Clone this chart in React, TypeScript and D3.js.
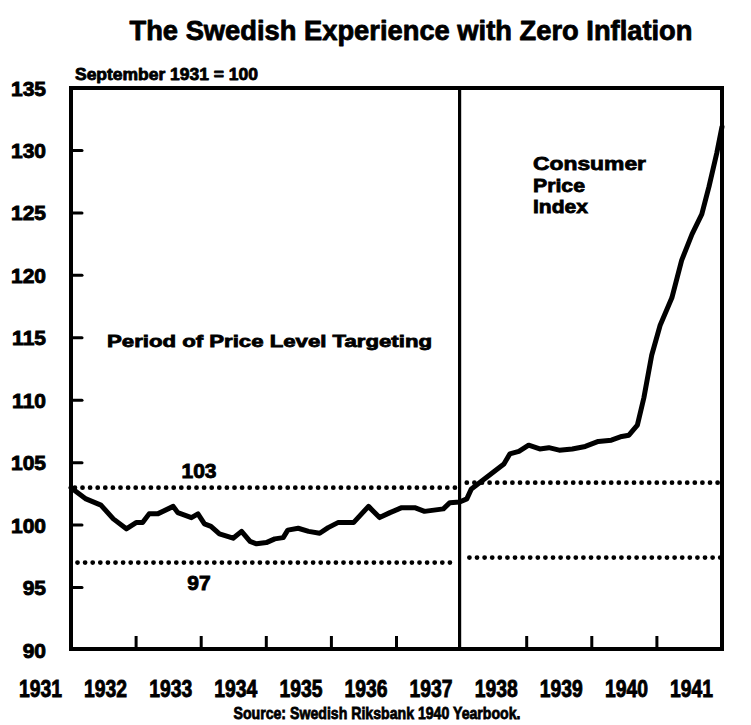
import React from "react";
import * as d3 from "d3";

const cpiYears = [
  1931.0, 1931.23, 1931.46, 1931.65, 1931.85, 1932.0, 1932.1, 1932.2, 1932.33, 1932.57,
  1932.64, 1932.85, 1932.95, 1933.05, 1933.15, 1933.28, 1933.49, 1933.62, 1933.75, 1933.85,
  1934.0, 1934.13, 1934.26, 1934.33, 1934.49, 1934.65, 1934.82, 1934.95, 1935.1, 1935.34,
  1935.57, 1935.74, 1935.9, 1936.08, 1936.28, 1936.43, 1936.72, 1936.82, 1936.97, 1937.08,
  1937.15, 1937.3, 1937.5, 1937.65, 1937.74, 1937.88, 1938.03, 1938.2, 1938.34, 1938.5,
  1938.7, 1938.9, 1939.1, 1939.3, 1939.46, 1939.57, 1939.7, 1939.8, 1939.92, 1940.05,
  1940.23, 1940.38, 1940.54, 1940.69, 1940.8, 1940.92, 1941.0,
];
const cpiValues = [
  103.0, 102.1, 101.6, 100.5, 99.7, 100.2, 100.2, 100.9, 100.9, 101.5,
  101.0, 100.6, 100.9, 100.1, 99.9, 99.3, 98.95, 99.5, 98.7, 98.5,
  98.6, 98.9, 99.0, 99.6, 99.75, 99.5, 99.35, 99.8, 100.2, 100.2,
  101.5, 100.6, 101.0, 101.4, 101.4, 101.1, 101.3, 101.8, 101.85, 102.1,
  102.9, 103.5, 104.3, 104.9, 105.7, 105.9, 106.4, 106.1, 106.2, 106.0,
  106.1, 106.3, 106.7, 106.8, 107.1, 107.2, 108.0, 110.2, 113.6, 116.0,
  118.2, 121.2, 123.3, 124.9, 127.1, 129.8, 131.9,
];

const yearTicks = [1931, 1932, 1933, 1934, 1935, 1936, 1937, 1938, 1939, 1940, 1941];
const valueTicks = [90, 95, 100, 105, 110, 115, 120, 125, 130, 135];
// target band: [start year, end year, value]
const bandUpper = [
  [1931.06, 1936.92, 103.0],
  [1937.08, 1940.98, 103.4],
];
const bandLower = [
  [1931.1, 1936.92, 97.0],
  [1937.12, 1940.98, 97.4],
];
const dividerYear = 1937;
const cpiLabelLines = ["Consumer", "Price", "Index"];
const cpiLabelWidths = [113, 52, 55];

const FONT = "'Liberation Sans', Arial, Helvetica, sans-serif";

export default function App() {
  const x = d3.scaleLinear().domain([1931, 1941]).range([71, 722]);
  const y = d3.scaleLinear().domain([90, 135]).range([650, 88]);

  const pts: [number, number][] = cpiYears.map((yr, i) => [yr, cpiValues[i]]);
  const line = d3
    .line<[number, number]>()
    .x((d) => x(d[0]))
    .y((d) => y(d[1]))
    .curve(d3.curveLinear);

  const top = y(135);
  const bottom = 649;
  const left = x(1931);
  const right = x(1941);

  const dotted = (segs: number[][], key: string) =>
    segs.map((s, i) => (
      <line
        key={key + i}
        x1={x(s[0])}
        x2={x(s[1])}
        y1={y(s[2])}
        y2={y(s[2])}
        stroke="#000"
        strokeWidth={4.8}
        strokeLinecap="round"
        strokeDasharray="0 7.6"
      />
    ));

  return (
    <svg
      width={751}
      height={725}
      style={{ position: "absolute", left: 0, top: 0, background: "#fff" }}
      fontFamily={FONT}
      fontWeight={700}
    >
      <rect width={751} height={725} fill="#fff" />
      <g stroke="#000" strokeWidth={0.8} strokeLinejoin="round">
        <text x={411} y={40} fontSize={27} textAnchor="middle" textLength={563} lengthAdjust="spacingAndGlyphs">
          The Swedish Experience with Zero Inflation
        </text>
        <text x={75} y={80} fontSize={16} textLength={183} lengthAdjust="spacingAndGlyphs">
          September 1931 = 100
        </text>
      </g>

      {/* frame */}
      <path
        d={`M${left},${top} L${right},${top} L${right},${bottom} L${left},${bottom} Z`}
        fill="none"
        stroke="#000"
        strokeWidth={4}
      />
      <line x1={x(dividerYear) - 2} x2={x(dividerYear) - 2} y1={top} y2={bottom} stroke="#000" strokeWidth={3.2} />

      {/* y ticks */}
      {valueTicks.map((v) => (
        <g key={"yt" + v}>
          {v > 90 && v < 135 && (
            <line x1={left} x2={left + 11} y1={y(v)} y2={y(v)} stroke="#000" strokeWidth={3} strokeLinecap="round" />
          )}
          <text x={46} y={y(v) + 7.5} fontSize={21} textAnchor="end" stroke="#000" strokeWidth={0.9}>
            {v}
          </text>
        </g>
      ))}

      {/* x ticks */}
      {yearTicks.map((t) => (
        <g key={"xt" + t}>
          {t > 1931 && t < 1941 && t !== dividerYear && (
            <line x1={x(t)} x2={x(t)} y1={bottom} y2={bottom - 13} stroke="#000" strokeWidth={3} />
          )}
          <text
            x={x(t) - 52}
            y={697}
            fontSize={24}
            stroke="#000"
            strokeWidth={0.9}
            textLength={43}
            lengthAdjust="spacingAndGlyphs"
          >
            {t}
          </text>
        </g>
      ))}

      {dotted(bandUpper, "u")}
      {dotted(bandLower, "l")}

      <g stroke="#000" strokeWidth={0.9}>
        <text x={199} y={478} fontSize={21} textAnchor="middle">103</text>
        <text x={199} y={590} fontSize={21} textAnchor="middle">97</text>
      </g>

      <path d={line(pts) || ""} fill="none" stroke="#000" strokeWidth={5} strokeLinejoin="round" strokeLinecap="round" />

      <g stroke="#000" strokeWidth={0.8}>
        <text x={107} y={347} fontSize={17} textLength={325} lengthAdjust="spacingAndGlyphs">
          Period of Price Level Targeting
        </text>
        {cpiLabelLines.map((s, i) => (
          <text key={s} x={533} y={170 + i * 21.5} fontSize={19} textLength={cpiLabelWidths[i]} lengthAdjust="spacingAndGlyphs">
            {s}
          </text>
        ))}
        <text x={377} y={719} fontSize={17} textAnchor="middle" textLength={287} lengthAdjust="spacingAndGlyphs">
          Source: Swedish Riksbank 1940 Yearbook.
        </text>
      </g>
    </svg>
  );
}
